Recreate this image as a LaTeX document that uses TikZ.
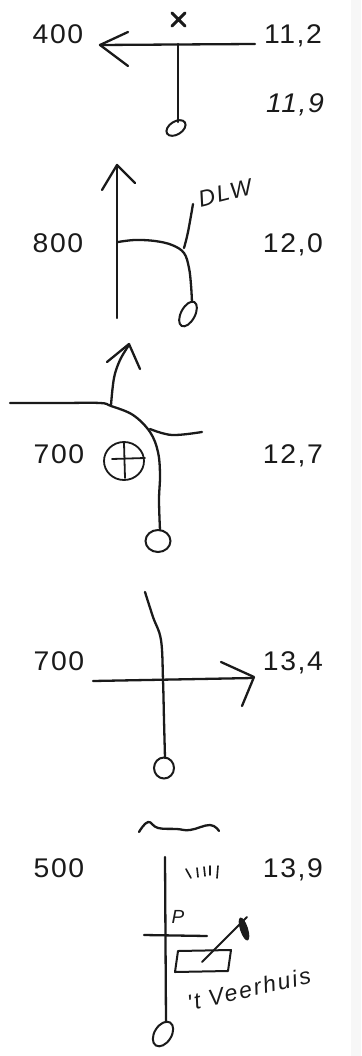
\documentclass[tikz,border=0pt]{standalone}
\usepackage{fontspec}
\newfontfamily\labfont[FakeStretch=1.05,LetterSpace=6]{Liberation Sans}
\newfontfamily\handfont[LetterSpace=9]{Liberation Sans}
\definecolor{ink}{HTML}{1A1A1A}
\usetikzlibrary{shapes.geometric}
\tikzset{
  road/.style={draw=ink,line width=2.3pt,line cap=round,line join=round},
  thin road/.style={draw=ink,line width=1.6pt,line cap=round,line join=round},
  km/.style={text=ink,inner sep=0pt,anchor=base,font=\labfont\fontsize{27}{27}\selectfont},
  hand/.style={text=ink,inner sep=0pt},
  halt/.style={draw=ink,line width=2pt,ellipse,inner sep=0pt}
}
\begin{document}
\begin{tikzpicture}[x=1pt,y=-1pt]
\useasboundingbox (0,0) rectangle (361,1056);
\fill[white] (0,0) rectangle (361,1056);
\fill[black!3] (351,0) rectangle (361,1056);
% labels
\node[km] (a1) at (58,44) {400};
\node[km] (b1) at (293,44) {11,2};
\node[km,font=\labfont\itshape\fontsize{27}{27}\selectfont] (b1i) at (295,113) {11,9};
\node[km] (a2) at (58,253) {800};
\node[km] (b2) at (293,253) {12,0};
\node[km] (a3) at (59,463) {700};
\node[km] (b3) at (293,463) {12,7};
\node[km] (a4) at (59,670) {700};
\node[km] (b4) at (293,670) {13,4};
\node[km] (a5) at (59,877) {500};
\node[km] (b5) at (293,877) {13,9};
% row 1
\draw[road,line width=3pt] (172,13) -- (185,26) (185,13) -- (172,26);
\coordinate (r1e) at (255,44);
\coordinate (r1t) at (100,45);
\coordinate (r1j) at (178,44);
\node[halt,minimum width=21pt,minimum height=13pt,rotate=32] (h1) at (176,128) {};
\draw[road] (r1e) -- (r1t);
\draw[road] (128,32) -- (r1t) -- (128,66);
\draw[road] (r1j) -- (178,122);
% row 2
\coordinate (r2s) at (117,318);
\coordinate (r2t) at (117,165);
\node[halt,minimum width=27pt,minimum height=14pt,rotate=62] (h2) at (188,314) {};
\draw[road] (r2s) -- (r2t);
\draw[road] (102,190) -- (r2t) -- (135,183);
\draw[road] plot[smooth,tension=.6] coordinates {(118,242) (135,240) (155,241) (172,245) (184,253) (189,268) (191,285) (192,302)};
\draw[road] plot[smooth,tension=.6] coordinates {(184,248) (188,232) (193,204)};
\node[hand,rotate=14,font=\handfont\itshape\fontsize{23}{23}\selectfont] (dlw) at (225,193) {DLW};
% row 3
\node[halt,minimum width=25pt,minimum height=22pt] (h3) at (158,541) {};
\coordinate (r3j) at (111,405);
\draw[road] plot[smooth,tension=.6] coordinates {(10,403) (60,403) (100,403) (111,406) (133,415) (150,432) (158,452) (160,475) (159,500) (160,530)};
\draw[road] plot[smooth,tension=.6] coordinates {(r3j) (114,378) (120,360) (129,345)};
\draw[road] (107,362) -- (129,344) -- (140,369);
\draw[road] plot[smooth,tension=.6] coordinates {(150,429) (172,435) (202,432)};
\node[draw=ink,line width=1.8pt,ellipse,minimum width=40pt,minimum height=38pt,inner sep=0pt] (kerk) at (124,461) {};
\draw[thin road,line width=1.8pt] (112,459) -- (145,458) (124,443) -- (125,478);
% row 4
\node[halt,minimum width=20pt,minimum height=21pt] (h4) at (164,768) {};
\coordinate (r4w) at (93,681);
\coordinate (r4e) at (253,678);
\draw[road] plot[smooth,tension=.6] coordinates {(145,592) (153,617) (161,640) (163,680) (164,720) (165,758)};
\draw[road] (r4w) -- (r4e);
\draw[road] (221,662) -- (254,677) -- (242,706);
% row 5
\draw[road] plot[smooth,tension=.7] coordinates {(139,832) (148,822) (158,828) (177,829) (190,830) (210,825) (219,831)};
\draw[thin road] (186,869) -- (191,878) (197,868) -- (198,877) (204,867) -- (205,876) (210,866) -- (210,875) (218,866) -- (217,878);
\node[halt,minimum width=27pt,minimum height=17pt,rotate=58] (h5) at (163,1034) {};
\draw[road] (165,857) -- (166,1022);
\node[hand,font=\handfont\itshape\fontsize{19}{19}\selectfont] (pp) at (178,917) {P};
\draw[road] (144,935) -- (207,936);
\draw[thin road,line width=2pt] (178,951) -- (231,950) -- (228,971) -- (175,972) -- cycle;
\draw[thin road,line width=2pt] (202,962) -- (247,917);
\node[fill=ink,ellipse,minimum width=24pt,minimum height=8pt,inner sep=0pt,rotate=108] (oog) at (244,929) {};
\node[hand,rotate=13,font=\handfont\itshape\fontsize{23}{23}\selectfont] (veer) at (249,989) {'t Veerhuis};
\end{tikzpicture}
\end{document}
